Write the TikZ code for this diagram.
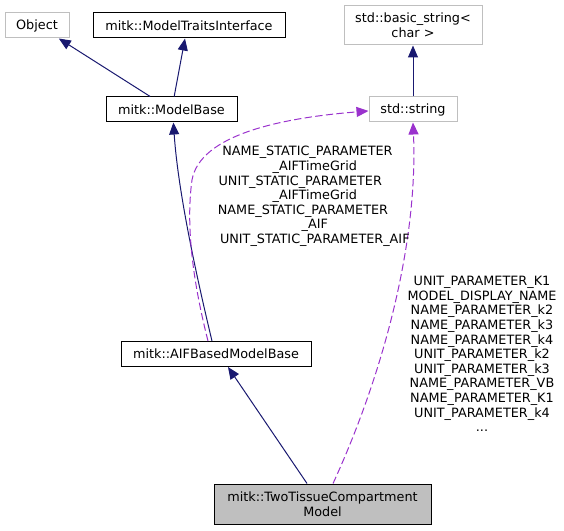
\documentclass[tikz,border=0pt]{standalone}
\usepackage{fontspec}
\setmainfont{DejaVu Sans}
\usetikzlibrary{arrows.meta}
\definecolor{edgeblue}{HTML}{191970}
\definecolor{edgepurple}{HTML}{9A32CD}
\definecolor{boxgrey}{HTML}{BFBFBF}

\begin{document}
\begin{tikzpicture}[x=0.75pt, y=-0.75pt,
  every node/.style={font=\fontsize{9.6}{10.95}\selectfont},
  cls/.style={rectangle, draw=black, line width=0.75pt, fill=white, minimum height=18.75pt, inner sep=0pt, align=center},
  ext/.style={cls, draw=boxgrey},
  inherit/.style={draw=edgeblue, line width=0.75pt, -{Triangle[length=9pt, width=7.5pt, fill=edgeblue]}},
  usage/.style={draw=edgepurple, line width=0.75pt, dash pattern=on 5.5pt off 2.5pt, -{Triangle[length=9pt, width=7.5pt, fill=edgepurple]}}]
  \useasboundingbox (0,0) rectangle (564,531);
  \node[ext, minimum width=48pt] (obj) at (37,25.5) {Object};
  \node[cls, minimum width=144pt] (mti) at (189,25.5) {mitk::ModelTraitsInterface};
  \node[cls, minimum width=98.25pt] (mb) at (171.5,109.5) {mitk::ModelBase};
  \node[ext, minimum width=103.5pt, minimum height=29.25pt] (bstr) at (413,25.5) {std::basic\_string<\\char >};
  \node[ext, minimum width=66pt] (str) at (413,109.5) {std::string};
  \node[cls, minimum width=142.5pt] (aif) at (216,354) {mitk::AIFBasedModelBase};
  \node[cls, fill=boxgrey, minimum width=162.75pt, minimum height=30pt] (ttcm) at (322.5,504) {mitk::TwoTissueCompartment\\Model};
  \draw[inherit] ([xshift=-16pt]mb.north) -- ([xshift=-8pt]obj.south east);
  \draw[inherit] ([xshift=2pt]mb.north) -- ([xshift=-3pt]mti.south);
  \draw[inherit] (str) -- (bstr);
  \draw[inherit] ([xshift=-3pt]aif.north) .. controls (195,270) and (178,190) .. ([xshift=1.4pt]mb.south);
  \draw[inherit] ([xshift=-11.6pt]ttcm.north) -- ([xshift=9pt]aif.south);
  \draw[usage] ([xshift=-6pt]aif.north) .. controls (195,290) and (185,230) .. (192,180) .. controls (200,135) and (280,118) .. ([yshift=-1.1pt]str.west);
  \draw[usage] ([xshift=7.9pt]ttcm.north) .. controls (385,370) and (418,240) .. (str.south);
  \node[align=center] (lblstatic) at (314.8,196.5) {NAME\_STATIC\_PARAMETER\kern11pt\\\_AIFTimeGrid\\UNIT\_STATIC\_PARAMETER\kern21.8pt\\\_AIFTimeGrid\\NAME\_STATIC\_PARAMETER\kern17.7pt\\\_AIF\\UNIT\_STATIC\_PARAMETER\_AIF};
  \node[align=center] (lblparams) at (482,354) {UNIT\_PARAMETER\_K1\\MODEL\_DISPLAY\_NAME\\NAME\_PARAMETER\_k2\\NAME\_PARAMETER\_k3\\NAME\_PARAMETER\_k4\\UNIT\_PARAMETER\_k2\\UNIT\_PARAMETER\_k3\\NAME\_PARAMETER\_VB\\NAME\_PARAMETER\_K1\\UNIT\_PARAMETER\_k4\\...};
\end{tikzpicture}
\end{document}
